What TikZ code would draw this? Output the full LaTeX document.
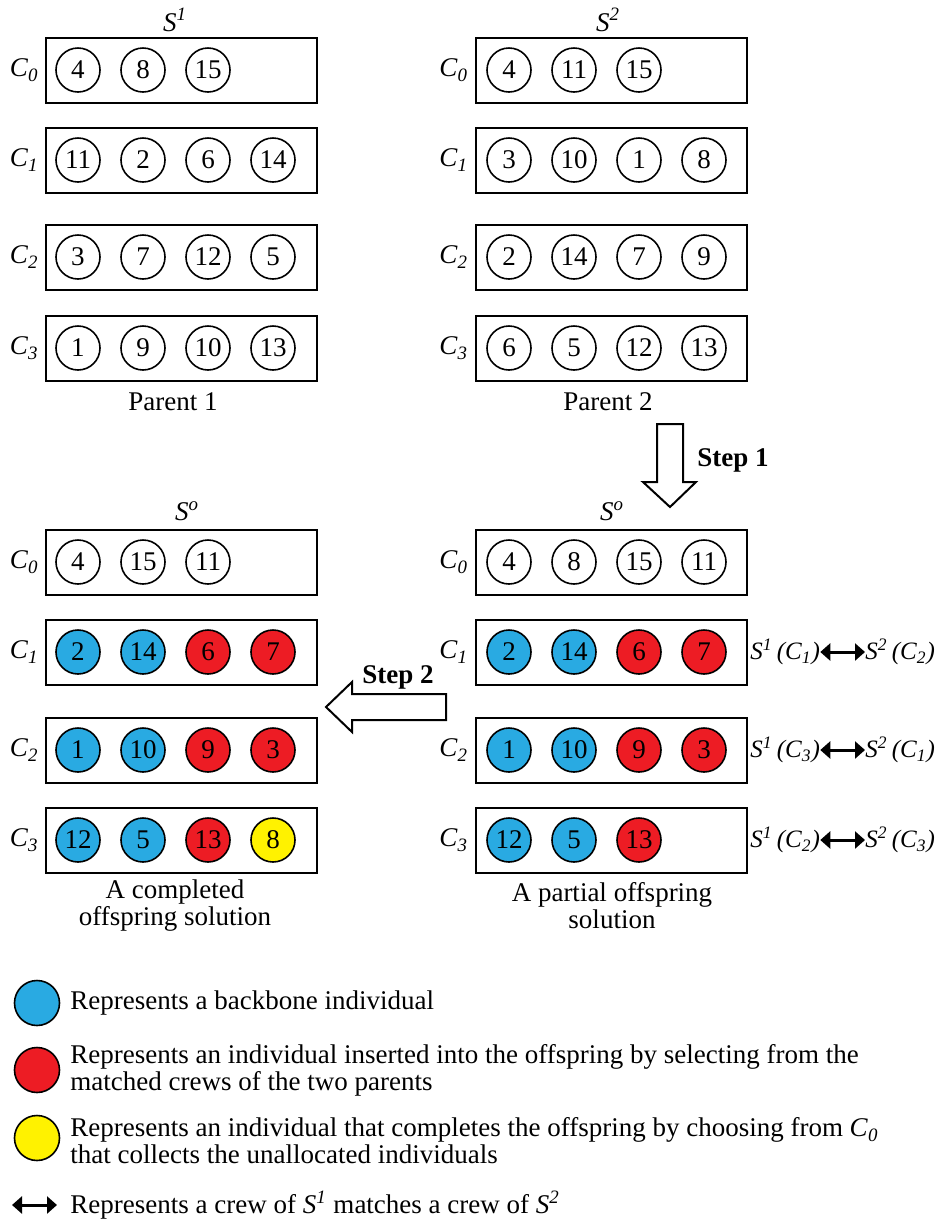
\documentclass[tikz,border=0pt]{standalone}
\usepackage{fontspec}
\setmainfont{Liberation Serif}
\usetikzlibrary{arrows.meta}

\definecolor{backblue}{RGB}{41,170,226}
\definecolor{insred}{RGB}{237,28,36}
\definecolor{compyellow}{RGB}{255,242,0}

\begin{document}
\begin{tikzpicture}[x=0.5pt,y=-0.5pt,font=\fontsize{13.5}{13.5}\selectfont,
    crew/.style={draw,line width=1pt,minimum width=135.5pt,minimum height=32.5pt},
    indiv/.style={circle,draw,line width=0.8pt,minimum size=22pt,inner sep=0pt},
    crewlabel/.style={anchor=east,inner sep=3pt},
    matchlabel/.style={inner sep=0pt,font=\fontsize{12.5}{13}\selectfont\itshape},
    match/.style={line width=1.5pt,{Triangle[length=5pt,width=8.5pt]}-{Triangle[length=5pt,width=8.5pt]}}]
  \useasboundingbox (0,0) rectangle (936,1223);

  % titles
  \node (s1) at (175,20) {\textit{S}\textsuperscript{\textit{1}}};
  \node (s2) at (608,20) {\textit{S}\textsuperscript{\textit{2}}};
  \node (so1) at (612,511) {\textit{S}\textsuperscript{\textit{o}}};
  \node (so2) at (187,511) {\textit{S}\textsuperscript{\textit{o}}};

  % parent 1
  \foreach \r/\y/\row in {0/70/{4,8,15},1/160/{11,2,6,14},2/257/{3,7,12,5},3/348/{1,9,10,13}} {
    \node[crew] (p1c\r) at (181.5,\y) {};
    \node[crewlabel] (p1l\r) at (p1c\r.west) {\textit{C}\textsubscript{\textit{\r}}};
    \foreach \v [count=\i] in \row
      \node[indiv] (p1c\r-\i) at ({13+65*\i},\y) {\v};
  }
  % parent 2
  \foreach \r/\y/\row in {0/70/{4,11,15},1/160/{3,10,1,8},2/257/{2,14,7,9},3/348/{6,5,12,13}} {
    \node[crew] (p2c\r) at (611,\y) {};
    \node[crewlabel] (p2l\r) at (p2c\r.west) {\textit{C}\textsubscript{\textit{\r}}};
    \foreach \v [count=\i] in \row
      \node[indiv] (p2c\r-\i) at ({444+65*\i},\y) {\v};
  }
  \node (par1) at (173,402) {Parent 1};
  \node (par2) at (608,402) {Parent 2};

  % partial offspring
  \foreach \r/\y/\row in {0/562/{4/white,8/white,15/white,11/white},
      1/652/{2/backblue,14/backblue,6/insred,7/insred},
      2/750/{1/backblue,10/backblue,9/insred,3/insred},
      3/840/{12/backblue,5/backblue,13/insred}} {
    \node[crew] (pac\r) at (611,\y) {};
    \node[crewlabel] (pal\r) at (pac\r.west) {\textit{C}\textsubscript{\textit{\r}}};
    \foreach \v/\c [count=\i] in \row
      \node[indiv,fill=\c] (pac\r-\i) at ({444+65*\i},\y) {\v};
  }
  % completed offspring
  \foreach \r/\y/\row in {0/562/{4/white,15/white,11/white},
      1/652/{2/backblue,14/backblue,6/insred,7/insred},
      2/750/{1/backblue,10/backblue,9/insred,3/insred},
      3/840/{12/backblue,5/backblue,13/insred,8/compyellow}} {
    \node[crew] (pcc\r) at (181.5,\y) {};
    \node[crewlabel] (pcl\r) at (pcc\r.west) {\textit{C}\textsubscript{\textit{\r}}};
    \foreach \v/\c [count=\i] in \row
      \node[indiv,fill=\c] (pcc\r-\i) at ({13+65*\i},\y) {\v};
  }
  \node[align=center] (cap1) at (175,906) {A completed\\offspring solution};
  \node[align=center] (cap2) at (612,906) {A partial offspring\\solution};

  % matched crews
  \foreach \r/\y/\a/\b in {1/652/1/2,2/750/3/1,3/840/2/3} {
    \node[matchlabel,anchor=west] (ml\r) at (750,\y) {S\textsuperscript{1}\,(C\textsubscript{\a})};
    \node[matchlabel,anchor=west] (mr\r) at (865,\y) {S\textsuperscript{2}\,(C\textsubscript{\b})};
    \draw[match] (ml\r) -- (mr\r);
  }

  % steps
  \draw[line width=1pt] (657,424) -- (683,424) -- (683,482) -- (696,482) -- (670,507)
    -- (643,482) -- (657,482) -- cycle;
  \node[font=\fontsize{13.5}{13.5}\selectfont\bfseries] (st1) at (733,460) {Step 1};
  \draw[line width=1pt] (446,694) -- (446,720) -- (352,720) -- (352,732) -- (326,707)
    -- (352,682) -- (352,694) -- cycle;
  \node[font=\fontsize{13.5}{13.5}\selectfont\bfseries] (st2) at (398,677) {Step 2};

  % legend
  \node[indiv,minimum size=22.5pt,fill=backblue] (lg1) at (37,1003) {};
  \node[indiv,minimum size=22.5pt,fill=insred] (lg2) at (37,1070) {};
  \node[indiv,minimum size=22.5pt,fill=compyellow] (lg3) at (37,1138) {};
  \coordinate (la1) at (12,1205);
  \coordinate (la2) at (57,1205);
  \draw[match] (la1) -- (la2);
  \begin{scope}[every node/.style={anchor=west,inner sep=0pt,align=left}]
    \node (lt1) at (70,1003) {Represents a backbone individual};
    \node (lt2) at (70,1070) {Represents an individual inserted into the offspring by selecting from the\\matched crews of the two parents};
    \node (lt3) at (70,1141) {Represents an individual that completes the offspring by choosing from \textit{C}\textsubscript{\textit{0}}\\that collects the unallocated individuals};
    \node (lt4) at (70,1205) {Represents a crew of \textit{S}\textsuperscript{\textit{1}} matches a crew of \textit{S}\textsuperscript{\textit{2}}};
  \end{scope}
\end{tikzpicture}
\end{document}
